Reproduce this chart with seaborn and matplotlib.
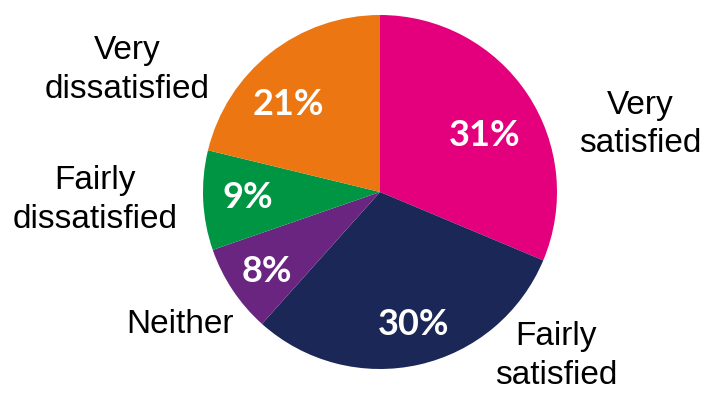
import numpy as np
import matplotlib
matplotlib.use("Agg")
import matplotlib.pyplot as plt
import seaborn as sns

categories = ["Very satisfied", "Fairly satisfied", "Neither", "Fairly dissatisfied", "Very dissatisfied"]
label_texts = ["Very\nsatisfied", "Fairly\nsatisfied", "Neither", "Fairly\ndissatisfied", "Very\ndissatisfied"]
values = [31, 30, 8, 9, 21]
colors = ["#E4007C", "#1B2857", "#692580", "#009543", "#EC7612"]

sns.set_theme(style="white")
plt.rcParams["font.family"] = ["Liberation Sans", "DejaVu Sans"]

W, H, DPI = 7.07, 3.93, 100
R = 177.0                      # pie radius in pixels
CX, CY = 380.0, 192.0          # pie centre in pixels (from top-left)


def to_units(px, py):
    return (px - CX) / R, (CY - py) / R


# layout (pixels from top-left): category label centres and percent-label centres/baselines
label_px = [(640, 124.5), (556, 356), (180, 324.5), (95, 200), (127, 70)]
pct_px = [(485, 146), (414, 335), (267, 282), (247.5, 208), (288, 115)]

fig = plt.figure(figsize=(W, H), dpi=DPI)
ax = fig.add_axes([0, 0, 1, 1])

ax.pie(values, colors=colors, startangle=90, counterclock=False,
       radius=1.0, wedgeprops=dict(linewidth=0))

for v, (px, py) in zip(values, pct_px):
    x, y = to_units(px, py)
    ax.text(x, y, f"{v}%", ha="center", va="baseline",
            color="white", fontsize=26, fontweight="bold", family=["Lato", "DejaVu Sans"])

for t, (px, py) in zip(label_texts, label_px):
    x, y = to_units(px, py)
    ax.text(x, y, t, ha="center", va="center", fontsize=24, color="black",
            linespacing=1.3)

ax.set_xlim(-CX / R, (W * DPI - CX) / R)
ax.set_ylim(-(H * DPI - CY) / R, CY / R)
ax.set_aspect("auto")
ax.axis("off")

fig.savefig("out.png", dpi=DPI)
